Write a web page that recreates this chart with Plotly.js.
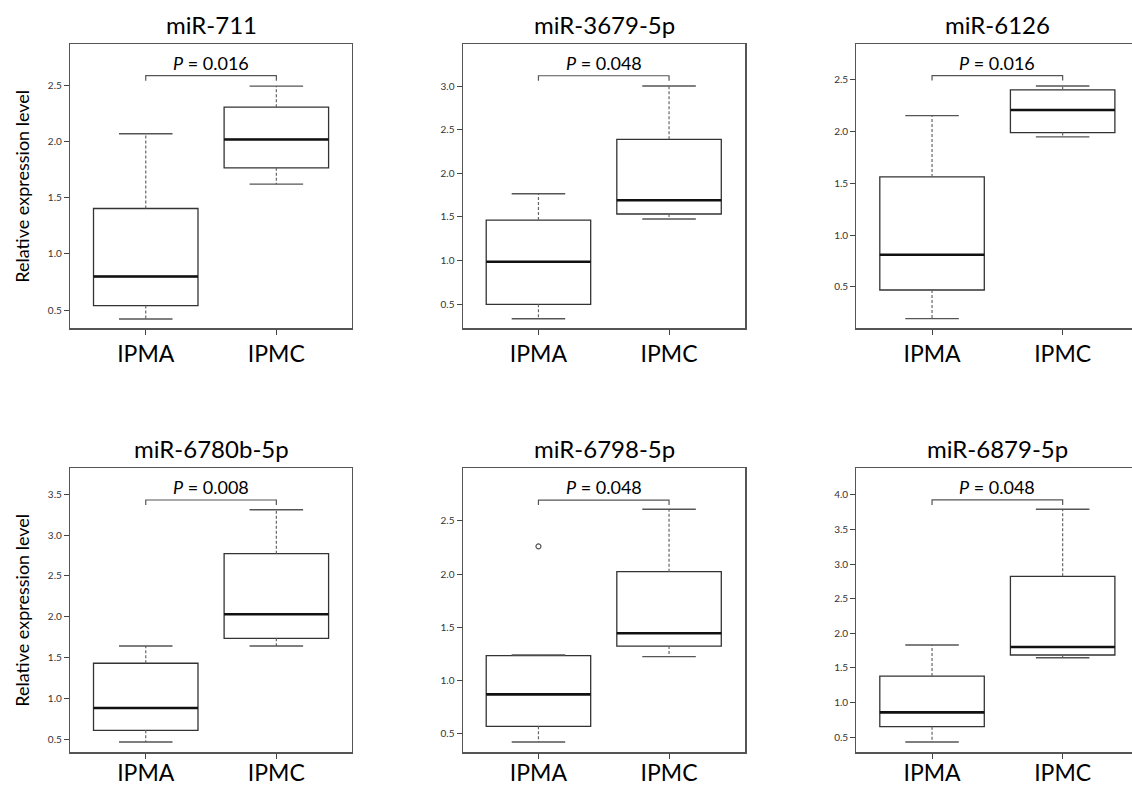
<!DOCTYPE html>
<html>
<head>
<meta charset="utf-8">
<script src="https://cdn.plot.ly/plotly-3.0.1.min.js"></script>
<style>html,body{margin:0;padding:0;background:#fff;}#chart{width:1132px;height:787px;}</style>
</head>
<body>
<div id="chart"></div>
<script>
// ---- data ----
const panelTitles = ['miR-711', 'miR-3679-5p', 'miR-6126', 'miR-6780b-5p', 'miR-6798-5p', 'miR-6879-5p'];
const groups = ['IPMA', 'IPMC'];
const lowerWhisker = [[0.423, 1.620], [0.335, 1.477], [0.195, 1.945], [0.467, 1.642], [0.418, 1.222], [0.428, 1.647]];
const q1Values     = [[0.542, 1.765], [0.500, 1.534], [0.471, 1.987], [0.610, 1.737], [0.566, 1.322], [0.649, 1.686]];
const medianValues = [[0.800, 2.017], [0.988, 1.691], [0.811, 2.205], [0.883, 2.031], [0.867, 1.442], [0.857, 1.802]];
const q3Values     = [[1.404, 2.304], [1.465, 2.389], [1.560, 2.398], [1.431, 2.773], [1.231, 2.022], [1.382, 2.824]];
const upperWhisker = [[2.067, 2.491], [1.766, 3.000], [2.150, 2.436], [1.642, 3.311], [1.238, 2.610], [1.831, 3.793]];
const outlierValues = [[[], []], [[], []], [[], []], [[], []], [[2.261], []], [[], []]];
const pValues = ['0.016', '0.048', '0.016', '0.008', '0.048', '0.048'];
const bracketLevel = [2.583, 3.118, 2.536, 3.430, 2.697, 3.928];
const yAxisTitle = 'Relative expression level';

// ---- layout geometry ----
const W = 1132, H = 787;
const colPx = [[70, 352], [462.7, 745.3], [856.3, 1132]];
const rowPx = [[44.3, 328.3], [468.3, 752.3]];
const rowLabelShift = [0, -5];
const yRanges = [[0.34, 2.862], [0.225, 3.478], [0.102, 2.837], [0.341, 3.818], [0.321, 2.996], [0.279, 4.386]];
const pxPerX = 130.6;
const FONT = 'Lato, "Open Sans", sans-serif';

const traces = [];
const layout = {
  width: W, height: H,
  margin: {l: 0, r: 0, t: 0, b: 0},
  paper_bgcolor: '#fff', plot_bgcolor: '#fff',
  showlegend: false,
  font: {family: FONT, color: '#000'},
  annotations: [],
  hovermode: false
};

panelTitles.forEach((title, i) => {
  const n = i + 1;
  const row = Math.floor(i / 3), col = i % 3;
  const xa = 'x' + (n === 1 ? '' : n), ya = 'y' + (n === 1 ? '' : n);
  const xKey = 'xaxis' + (n === 1 ? '' : n), yKey = 'yaxis' + (n === 1 ? '' : n);
  const cx = colPx[col], ry = rowPx[row];
  const xmax = 0.42 + (cx[1] - cx[0]) / pxPerX;

  layout[xKey] = {
    domain: [cx[0] / W, cx[1] / W],
    range: [0.42, xmax],
    anchor: ya,
    tickmode: 'array', tickvals: [1, 2], ticktext: groups,
    ticks: 'outside', ticklen: 5, tickwidth: 1, tickcolor: '#444',
    ticklabelstandoff: rowLabelShift[row],
    tickfont: {size: 23, family: FONT, color: '#000'},
    showline: true, linecolor: '#555', linewidth: 1.2, mirror: true,
    showgrid: false, zeroline: false, fixedrange: true
  };
  layout[yKey] = {
    domain: [1 - ry[1] / H, 1 - ry[0] / H],
    range: yRanges[i],
    anchor: xa,
    tick0: 0.5, dtick: 0.5, tickformat: '.1f',
    ticks: 'outside', ticklen: 5, tickwidth: 1, tickcolor: '#444',
    tickfont: {size: 10, family: FONT, color: '#333'},
    showline: true, linecolor: '#555', linewidth: 1.2, mirror: col !== 2,
    showgrid: false, zeroline: false, fixedrange: true
  };
  if (col === 0) {
    layout[yKey].title = {text: yAxisTitle, font: {size: 18, family: FONT, color: '#000'}, standoff: 13};
  }

  // box body (quartiles)
  traces.push({
    type: 'box', orientation: 'v', x: [1, 2],
    q1: q1Values[i], median: medianValues[i], q3: q3Values[i],
    lowerfence: q1Values[i], upperfence: q3Values[i],
    width: 0.8, whiskerwidth: 0, boxpoints: false,
    fillcolor: '#fff', line: {color: '#333', width: 1.3},
    xaxis: xa, yaxis: ya, hoverinfo: 'skip'
  });

  // median, whiskers, caps
  const mx = [], my = [], wx = [], wy = [], sx = [], sy = [];
  [1, 2].forEach((g, k) => {
    mx.push(g - 0.4, g + 0.4, null); my.push(medianValues[i][k], medianValues[i][k], null);
    wx.push(g, g, null, g, g, null);
    wy.push(q3Values[i][k], upperWhisker[i][k], null, q1Values[i][k], lowerWhisker[i][k], null);
    sx.push(g - 0.205, g + 0.205, null, g - 0.205, g + 0.205, null);
    sy.push(upperWhisker[i][k], upperWhisker[i][k], null, lowerWhisker[i][k], lowerWhisker[i][k], null);
  });
  traces.push({type: 'scatter', mode: 'lines', x: wx, y: wy, xaxis: xa, yaxis: ya,
    line: {color: '#666', width: 1.2, dash: '3px,2px'}, hoverinfo: 'skip'});
  traces.push({type: 'scatter', mode: 'lines', x: sx, y: sy, xaxis: xa, yaxis: ya,
    line: {color: '#555', width: 1.4}, hoverinfo: 'skip'});
  traces.push({type: 'scatter', mode: 'lines', x: mx, y: my, xaxis: xa, yaxis: ya,
    line: {color: '#111', width: 2.6}, hoverinfo: 'skip'});

  // outliers
  const ox = [], oy = [];
  outlierValues[i].forEach((arr, k) => arr.forEach(v => { ox.push(k + 1); oy.push(v); }));
  if (ox.length) {
    traces.push({type: 'scatter', mode: 'markers', x: ox, y: oy, xaxis: xa, yaxis: ya,
      marker: {symbol: 'circle-open', size: 5, color: '#555', line: {width: 1.2}}, hoverinfo: 'skip'});
  }

  // significance bracket
  const span = yRanges[i][1] - yRanges[i][0];
  const drop = span * 5 / 284;
  const b = bracketLevel[i];
  traces.push({type: 'scatter', mode: 'lines', x: [1, 1, 2, 2], y: [b - drop, b, b, b - drop],
    xaxis: xa, yaxis: ya, line: {color: '#555', width: 1.2}, hoverinfo: 'skip'});
  layout.annotations.push({
    xref: xa, yref: ya, x: 1.5, y: b, yanchor: 'bottom', xanchor: 'center', yshift: 0,
    text: '<i>P</i> = ' + pValues[i], showarrow: false,
    font: {size: 18, family: FONT, color: '#000'}
  });

  // panel title
  layout.annotations.push({
    xref: xa + ' domain', yref: ya + ' domain', x: 0.5, y: 1, yanchor: 'bottom', xanchor: 'center',
    yshift: 3, text: title, showarrow: false,
    font: {size: 24, family: FONT, color: '#000'}
  });
  if (col === 2) {
    layout.annotations[layout.annotations.length - 1].x = 0.5 * (2.58 - 0.42) / (xmax - 0.42);
  }
});

Plotly.newPlot('chart', traces, layout, {staticPlot: true, displayModeBar: false});
</script>
</body>
</html>
